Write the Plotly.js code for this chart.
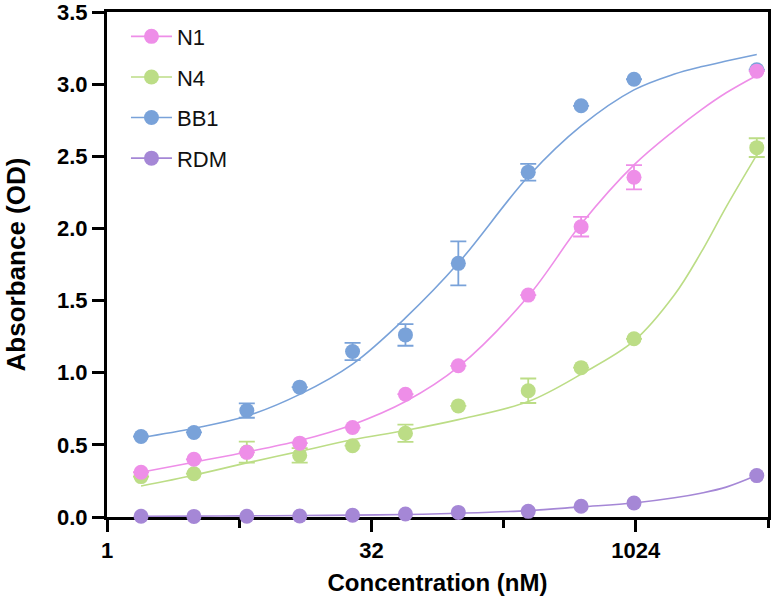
<!DOCTYPE html>
<html>
<head>
<meta charset="utf-8">
<script src="https://cdn.plot.ly/plotly-3.0.1.min.js"></script>
<style>
  html, body { margin: 0; padding: 0; background: #fff; }
  #chart { width: 774px; height: 597px; }
</style>
</head>
<body>
<div id="chart"></div>
<script>
// Concentrations (nM) of the dilution series
const conc = [1.5625, 3.125, 6.25, 12.5, 25, 50, 100, 250, 500, 1000, 5000];

// Mean absorbance (OD) and error for each antibody
const n1Mean  = [0.31, 0.40, 0.448, 0.512, 0.62, 0.851, 1.048, 1.538, 2.012, 2.355, 3.09];
const n1Err   = [null, null, null, null, null, null, null, null, 0.068, 0.084, null];
const n4Mean  = [0.28, 0.30, 0.45, 0.427, 0.494, 0.58, 0.77, 0.875, 1.035, 1.235, 2.56];
const n4Err   = [null, null, 0.073, 0.05, null, 0.06, null, 0.085, null, null, 0.065];
const bb1Mean = [0.558, 0.586, 0.738, 0.90, 1.147, 1.262, 1.758, 2.39, 2.85, 3.034, 3.10];
const bb1Err  = [null, null, 0.05, null, 0.06, 0.075, 0.152, 0.058, null, null, null];
const rdmMean = [0.005, 0.004, 0.005, 0.007, 0.012, 0.021, 0.032, 0.039, 0.074, 0.097, 0.287];

// Fitted dose-response curves, sampled along the concentration axis
const fitConc = [1.5625, 3.125, 6.25, 12.5, 25, 50, 100, 250, 500, 1000, 1700, 2400, 3350, 5000];
const n1Fit   = [0.31, 0.38, 0.45, 0.53, 0.64, 0.80, 1.04, 1.53, 2.03, 2.44, 2.68, 2.82, 2.94, 3.06];
const n4Fit   = [0.215, 0.29, 0.375, 0.455, 0.535, 0.60, 0.675, 0.80, 0.99, 1.22, 1.54, 1.83, 2.15, 2.51];
const bb1Fit  = [0.55, 0.615, 0.70, 0.85, 1.06, 1.38, 1.76, 2.36, 2.71, 2.96, 3.07, 3.12, 3.16, 3.205];
const rdmFit  = [0.005, 0.006, 0.008, 0.01, 0.013, 0.017, 0.026, 0.044, 0.07, 0.097, 0.133, 0.165, 0.207, 0.289];

// Axis ticks
const xMajorTicks = [1, 32, 1024];
const xMajorText  = ['1', '32', '1024'];
const xMinorTicks = [Math.pow(2, 2.5), Math.pow(2, 7.5), Math.pow(2, 12.5)];
const yTicks      = [0, 0.5, 1.0, 1.5, 2.0, 2.5, 3.0, 3.5];

const seriesNames = ['N1', 'N4', 'BB1', 'RDM'];
const colors = { N1: '#EE8EE8', N4: '#BCDD86', BB1: '#79A2D9', RDM: '#A587D6' };

const FONT = 'Liberation Sans, Arial, Helvetica, sans-serif';
const MS = 15;

function curve(name, y) {
  return {
    x: fitConc, y: y, type: 'scatter', mode: 'lines',
    line: { color: colors[name], width: 1.6, shape: 'spline', smoothing: 1 },
    showlegend: false, hoverinfo: 'skip', cliponaxis: false
  };
}
function points(name, y, err) {
  const t = {
    x: conc, y: y, type: 'scatter', mode: 'markers',
    marker: { color: colors[name], size: MS, line: { width: 0 } },
    showlegend: false, cliponaxis: false
  };
  if (err) {
    t.error_y = { type: 'data', array: err, visible: true,
                  color: colors[name], thickness: 1.8, width: 8 };
  }
  return t;
}

const data = [];
// legend entries (line + marker symbol)
seriesNames.forEach(function (n) {
  data.push({
    x: [null], y: [null], type: 'scatter', mode: 'lines+markers', name: n,
    legendgroup: n,
    line: { color: colors[n], width: 1.6 },
    marker: { color: colors[n], size: MS }
  });
});
data.push(curve('BB1', bb1Fit), points('BB1', bb1Mean, bb1Err));
data.push(curve('N4', n4Fit), points('N4', n4Mean, n4Err));
data.push(curve('N1', n1Fit), points('N1', n1Mean, n1Err));
data.push(curve('RDM', rdmFit), points('RDM', rdmMean, null));

const layout = {
  width: 774, height: 597,
  margin: { l: 107, r: 6, t: 12, b: 80, pad: 0 },
  paper_bgcolor: '#ffffff', plot_bgcolor: '#ffffff',
  font: { family: FONT, color: '#000' },
  showlegend: true,
  legend: {
    x: 0.0287, y: 0.993, xanchor: 'left', yanchor: 'top',
    bgcolor: 'rgba(0,0,0,0)', borderwidth: 0,
    font: { family: FONT, size: 22, color: '#111' },
    itemwidth: 41, tracegroupgap: 9
  },
  xaxis: {
    type: 'log',
    range: [0, Math.log10(Math.pow(2, 12.5))],
    tickmode: 'array', tickvals: xMajorTicks, ticktext: xMajorText,
    ticks: 'outside', ticklen: 12, tickwidth: 3, tickcolor: '#000',
    minor: { tickmode: 'array', tickvals: xMinorTicks, ticks: 'outside',
             ticklen: 8, tickwidth: 3, tickcolor: '#000', showgrid: false },
    showline: true, linewidth: 3, linecolor: '#000', mirror: true,
    showgrid: false, zeroline: false, layer: 'below traces',
    tickfont: { family: FONT, size: 22, color: '#000', weight: 'bold' },
    title: { text: '<b>Concentration (nM)</b>', standoff: 12,
             font: { family: FONT, size: 24, color: '#000' } }
  },
  yaxis: {
    range: [0, 3.5],
    tickmode: 'array', tickvals: yTicks,
    tickformat: '.1f',
    ticklabeloverflow: 'allow',
    ticks: 'outside', ticklen: 12, tickwidth: 3, tickcolor: '#000',
    showline: true, linewidth: 3, linecolor: '#000', mirror: true,
    showgrid: false, zeroline: false, layer: 'below traces',
    tickfont: { family: FONT, size: 22, color: '#000', weight: 'bold' },
    title: { text: '<b>Absorbance (OD)</b>', standoff: 24,
             font: { family: FONT, size: 26, color: '#000' } }
  }
};

Plotly.newPlot('chart', data, layout, { displayModeBar: false, staticPlot: true });
</script>
</body>
</html>
